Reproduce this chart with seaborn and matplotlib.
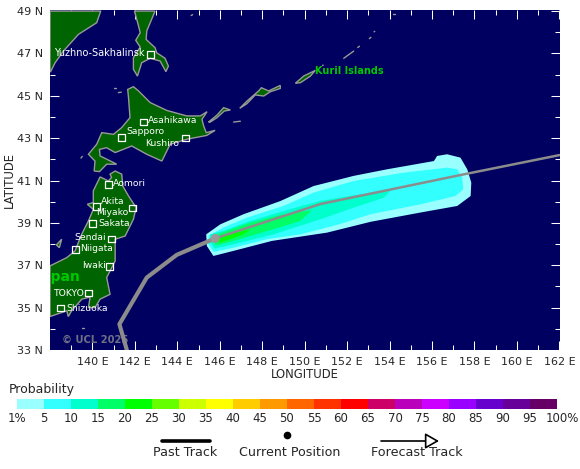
import pandas as pd
import matplotlib.pyplot as plt
import seaborn as sns
from matplotlib.colors import ListedColormap
from matplotlib.transforms import ScaledTranslation

# coastlines, lon/lat
russia = [(138, 49), (140.39, 49), (140.2, 48.45), (139.34, 47.9), (138.63, 47.11), (138.24, 46.56), (138.03, 46.14), (138, 46.14)]
sakhalin = [(141.98, 49), (142.17, 48.3), (142.25, 47.98), (142.04, 47.62), (142.25, 47.3), (141.93, 46.8), (141.93, 46.25),
            (142.12, 45.93), (142.32, 46.56), (142.72, 46.77), (143.19, 46.64), (143.46, 46.14), (143.58, 46.4),
            (143.42, 46.77), (143.03, 47.03), (142.95, 47.27), (142.53, 47.66), (142.56, 48.06), (142.95, 49)]
hokkaido = [(141.93, 45.43), (142.17, 45.23), (142.72, 44.68), (143.5, 44.31), (144.44, 44.05), (145.08, 44.05), (145.4, 44.25),
            (145.16, 43.89), (145.24, 43.58), (145.36, 43.26), (145.78, 43.37), (145.39, 43.13), (144.45, 42.95),
            (143.66, 42.71), (143.27, 41.92), (142.56, 42.24), (141.85, 42.63), (141.07, 42.32), (140.67, 42.55),
            (140.33, 42.47), (140.36, 42.16), (140.99, 41.85), (141.14, 41.77), (140.67, 41.77), (140.33, 41.42),
            (140.08, 41.45), (140.12, 41.92), (139.81, 42.24), (140.2, 42.71), (140.44, 43.26), (140.99, 43.18),
            (141.38, 43.5), (141.77, 43.97), (141.7, 44.91), (141.66, 45.3)]
honshu = [(140.36, 41.17), (140.75, 40.98), (140.9, 41.14), (140.83, 41.3), (141.07, 41.45), (141.38, 41.3), (141.43, 40.74),
          (141.7, 40.27), (142.06, 39.72), (141.93, 39.17), (141.54, 38.38), (141.07, 38.23), (141.07, 37.2),
          (140.67, 36.42), (140.83, 35.63), (140.36, 35.4), (140.12, 35.0), (139.81, 35.0), (139.89, 35.5),
          (139.5, 35.4), (139.02, 34.85), (138.86, 34.58), (138.79, 34.85), (138, 34.58), (138, 36.97),
          (138.79, 37.36), (139.18, 37.68), (139.49, 38.46), (139.81, 39.09), (140.04, 39.64), (139.76, 39.88),
          (140.04, 39.96), (140.04, 40.51)]
sado = [(138.3, 37.96), (138.55, 38.23), (138.44, 37.83)]
iturup = [(146.94, 44.41), (147.28, 44.75), (147.83, 45.23), (147.96, 45.38), (148.3, 45.23), (148.85, 45.49), (148.85, 45.35),
          (148.38, 45.19), (148.07, 44.99), (147.67, 45.04), (147.28, 44.63)]
urup = [(149.56, 45.59), (149.95, 45.93), (150.5, 46.2), (150.27, 45.93), (149.8, 45.62)]
kunashir = [(145.47, 43.76), (145.87, 44.09), (146.18, 44.44), (146.5, 44.33), (146.21, 44.28), (145.87, 43.97), (145.55, 43.76)]
land = [russia, sakhalin, hokkaido, honshu, sado, iturup, urup, kunashir]
islets = [[(151.84, 46.77), (152.31, 47.11)], [(146.65, 43.76), (146.97, 43.8)], [(152.5, 47.28), (152.58, 47.34)],
          [(153.05, 47.7), (153.12, 47.76)], [(153.27, 48.02), (153.3, 48.04)], [(150.84, 46.43), (150.87, 46.45)],
          [(154.15, 48.84), (154.25, 48.84)], [(141.03, 45.35), (141.13, 45.35)], [(141.22, 45.15), (141.36, 45.17)],
          [(139.46, 42.06), (139.52, 42.14)], [(144.65, 48.79), (144.72, 48.83)], [(139.5, 34.03), (139.58, 34.03)]]

# probability swath, one outline per band
band_1 = [(145.36, 38.46), (146.02, 38.93), (147.12, 39.41), (148.85, 40.03), (150.42, 40.74), (152.31, 41.22), (153.88, 41.53),
          (156.09, 41.92), (156.24, 42.16), (156.71, 42.24), (157.34, 42.08), (157.66, 41.53), (157.85, 40.9), (157.82, 40.27),
          (157.19, 39.8), (155.46, 39.49), (153.1, 39.05), (151.05, 38.54), (148.46, 38.15), (146.65, 37.68), (145.7, 37.44),
          (145.39, 37.91)]
band_5 = [(145.47, 38.4), (146.18, 38.78), (147.28, 39.25), (149.0, 39.8), (150.42, 40.43), (152.31, 40.98), (154.67, 41.37),
          (156.71, 41.61), (157.19, 41.53), (157.42, 41.14), (157.47, 40.59), (157.11, 40.27), (155.46, 39.88), (153.1, 39.41),
          (151.68, 38.95), (149.79, 38.46), (148.22, 38.23), (146.65, 37.83), (145.7, 37.63), (145.47, 37.99)]
band_10 = [(145.55, 38.46), (146.25, 38.65), (147.43, 39.09), (149.0, 39.56), (150.74, 40.04), (152.31, 40.3), (154.04, 40.51),
           (153.73, 40.19), (152.31, 39.72), (150.74, 39.17), (148.53, 38.46), (146.65, 37.99), (145.78, 37.79), (145.55, 38.07)]
band_15 = [(145.86, 38.46), (147.43, 39.01), (149.0, 39.41), (150.34, 39.6), (149.79, 39.09), (148.53, 38.7), (146.65, 38.15),
           (145.86, 37.94), (145.62, 38.15)]
band_20 = [(145.86, 38.23), (146.02, 38.38), (147.43, 38.7), (147.12, 38.46), (146.02, 38.07)]
swath = [band_1, band_5, band_10, band_15, band_20]

past_lon = [141.62, 141.27, 142.56, 143.97, 145.78]
past_lat = [33.0, 34.22, 36.42, 37.49, 38.27]
forecast_lon = [145.78, 150.74, 157.34, 162.0]
forecast_lat = [38.27, 39.89, 41.26, 42.2]

city_names = ['Yuzhno-Sakhalinsk', 'Asahikawa', 'Sapporo', 'Kushiro', 'Aomori', 'Akita', 'Miyako', 'Sakata', 'Sendai',
              'Niigata', 'Iwaki', 'TOKYO', 'Shizuoka']
city_lon = [142.73, 142.4, 141.36, 144.38, 140.75, 140.19, 141.88, 140.01, 140.89, 139.21, 140.8, 139.81, 138.49]
city_lat = [46.96, 43.76, 43.04, 43.01, 40.82, 39.78, 39.7, 38.98, 38.23, 37.74, 36.95, 35.68, 34.99]
label_lon = [142.45, 142.6, 141.6, 142.48, 140.97, 140.41, 140.17, 140.26, 139.13, 139.41, 139.51, 138.14, 138.75]
label_lat = [47.03, 43.83, 43.3, 42.77, 40.84, 40.03, 39.51, 38.99, 38.29, 37.77, 36.97, 35.69, 34.98]

prob_colors = ['#99ffff', '#33ffff', '#00ffcc', '#00ff66', '#00ff00', '#66ff00', '#ccff00', '#ffff00', '#ffcc00', '#ff9900',
               '#ff6600', '#ff3300', '#ff0000', '#cc0066', '#bb00bb', '#cc00ff', '#9900ff', '#6600cc', '#660099', '#660066']
prob_labels = ['1%', '5', '10', '15', '20', '25', '30', '35', '40', '45', '50', '55', '60', '65', '70', '75', '80', '85', '90',
               '95', '100%']

sns.set_theme(style='white')
plt.rcParams['font.family'] = ['DejaVu Sans']

W, H = 580, 469
fig = plt.figure(figsize=(W / 100, H / 100), dpi=100)
ax = fig.add_axes([50 / W, 1 - 350 / H, 510 / W, 340 / H])
ax.set_facecolor('#000060')

for shape in land:
    ax.fill(*zip(*shape), facecolor='#006400', edgecolor='#999999', linewidth=1.0, zorder=1)
for islet in islets:
    ax.plot(*zip(*islet), color='#999999', linewidth=1.0, zorder=1)
for shape, c in zip(swath, prob_colors):
    ax.fill(*zip(*shape), facecolor=c, edgecolor='none', zorder=2)

ax.text(138.55, 33.5, '\u00a9 UCL 2025', color='#6f6f88', fontsize=7.2, fontweight='bold', va='center', zorder=3)
ax.text(139.45, 36.45, 'Japan', color='#00c800', fontsize=10, fontweight='bold', ha='right', va='center', clip_on=True, zorder=3)
ax.text(150.5, 46.15, 'Kuril Islands', color='#00c800', fontsize=7, fontweight='bold', va='center', zorder=3)

sns.lineplot(x=past_lon, y=past_lat, sort=False, estimator=None, color='#8c8c8c', linewidth=3.0, ax=ax, zorder=4)
sns.lineplot(x=forecast_lon, y=forecast_lat, sort=False, estimator=None, color='#8c8c8c', linewidth=1.8, ax=ax, zorder=4)
sns.scatterplot(x=past_lon[-1:], y=past_lat[-1:], s=42, color='#999999', edgecolor='none', ax=ax, zorder=5)

sns.scatterplot(x=city_lon, y=city_lat, marker='s', s=22, facecolor='none', edgecolor='white', linewidth=0.9, ax=ax, zorder=6)
for name, x, y in zip(city_names, label_lon, label_lat):
    ax.text(x, y, name, color='white', fontsize=7 if name == 'Yuzhno-Sakhalinsk' else 6.7, va='center',
            ha='right' if name == 'Yuzhno-Sakhalinsk' else 'left', zorder=6)

ax.set_xlim(138, 162.03)
ax.set_ylim(33, 49.05)
ax.set_xticks(range(140, 163, 2))
ax.set_xticklabels([f'{v} E' for v in range(140, 163, 2)])
ax.set_yticks(range(33, 50, 2))
ax.set_yticklabels([f'{v} N' for v in range(33, 50, 2)])
ax.set_xticks(range(139, 162, 2), minor=True)
ax.set_yticks(range(34, 49, 2), minor=True)
ax.tick_params(which='major', direction='in', length=6.5, width=0.75, color='white', top=True, right=True, bottom=True, left=True,
               labelsize=8, pad=5)
ax.tick_params(which='minor', direction='in', length=3.5, width=0.75, color='white', top=True, right=True, bottom=True, left=True)
ax.set_xlabel('LONGITUDE', fontsize=8.4, labelpad=1)
ax.set_ylabel('LATITUDE', fontsize=8.4, labelpad=1)
for s in ax.spines.values():
    s.set_visible(False)

# colour scale
cax = fig.add_axes([17 / W, 1 - 409 / H, 540 / W, 10 / H])
sns.heatmap([list(range(20))], cmap=ListedColormap(prob_colors), cbar=False, ax=cax, xticklabels=False, yticklabels=False)
cax.set_xticks(range(21))
cax.set_xticklabels(prob_labels, rotation=0, fontsize=8.5)
cax.tick_params(axis='x', length=0, pad=2)
last = cax.get_xticklabels()[-1]
last.set_transform(last.get_transform() + ScaledTranslation(0.05, 0, fig.dpi_scale_trans))

# key under the scale, in pixels
key = fig.add_axes([0, 0, 1, 1], facecolor='none')
key.set_xlim(0, W)
key.set_ylim(H, 0)
key.axis('off')
key.text(9, 389, 'Probability', fontsize=9, va='center')
key.plot([162, 210], [441, 441], color='black', linewidth=2.6, solid_capstyle='round')
key.text(185, 453, 'Past Track', fontsize=9.2, ha='center', va='center')
key.plot([287], [435], marker='o', color='black', markersize=4.5)
key.text(290, 453, 'Current Position', fontsize=9.1, ha='center', va='center')
key.annotate('', xy=(439, 441), xytext=(381, 441),
             arrowprops=dict(arrowstyle='-|>,head_length=0.7,head_width=0.4', facecolor='white', edgecolor='black', linewidth=1.2,
                             shrinkA=0, shrinkB=0))
key.text(417, 453, 'Forecast Track', fontsize=9.2, ha='center', va='center')

fig.savefig('out.png', dpi=100)
